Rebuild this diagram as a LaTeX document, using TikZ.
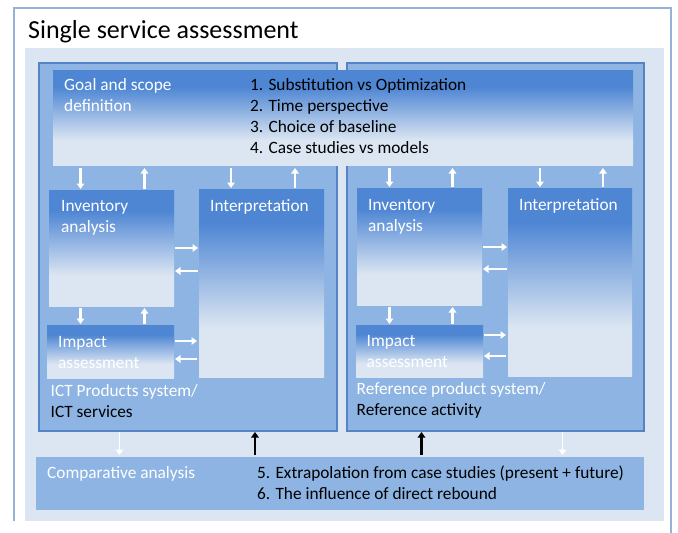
\documentclass[tikz,border=0pt]{standalone}
\usepackage{fontspec}
\setmainfont{Carlito}
\usetikzlibrary{arrows.meta}
\definecolor{framec}{RGB}{150,178,214}
\definecolor{panelc}{RGB}{220,230,242}
\definecolor{sysc}{RGB}{141,180,226}
\definecolor{sysedge}{RGB}{84,132,196}
\definecolor{gtop}{RGB}{78,134,212}
\definecolor{gbot}{RGB}{220,230,242}
\pgfdeclareverticalshading{lcagrad}{100bp}{color(0bp)=(gbot); color(25bp)=(gbot); color(38bp)=(gbot); color(66bp)=(gtop); color(75bp)=(gtop); color(100bp)=(gtop)}
\tikzset{
  box/.style={anchor=north west, inner sep=0pt, outer sep=0pt},
  sysbox/.style={box, fill=sysc, draw=sysedge, line width=1.1pt},
  gradbox/.style={box, shading=lcagrad},
  cmpbox/.style={box, fill=sysc},
  wtxt/.style={anchor=base west, inner sep=0pt, text=white, font=\fontsize{17.3}{21}\selectfont},
  btxt/.style={anchor=base west, inner sep=0pt, text=black, font=\fontsize{17.3}{21}\selectfont},
  warr/.style={draw=white, line width=2.2pt, -{Triangle[width=7.5pt,length=5.5pt]}},
  karr/.style={draw=black, line width=2.2pt, -{Triangle[width=7.5pt,length=5.5pt]}},
}
\begin{document}
\begin{tikzpicture}[x=1pt,y=-1pt]
\useasboundingbox (0,0) rectangle (678,533);
\fill[white] (0,0) rectangle (678,533);
% outer frame
\draw[framec, line width=1.2pt] (14,521) -- (14,8) -- (671,8) -- (671,540);
\node[anchor=base west, inner sep=0pt, font=\fontsize{26}{30}\selectfont] (title) at (28,38) {Single service assessment};
% panel
\node[box, fill=panelc, minimum width=639pt, minimum height=473pt] (panel) at (25,48) {};
% system boxes
\node[sysbox, minimum width=298pt, minimum height=368pt] (sysL) at (39,63) {};
\node[sysbox, minimum width=297pt, minimum height=368pt] (sysR) at (347,63) {};
% goal and scope
\node[gradbox, minimum width=580pt, minimum height=95pt] (goal) at (53,70) {};
\node[wtxt] (g1) at (64,90.5) {Goal and scope};
\node[wtxt] (g2) at (64,111.5) {definition};
\node[btxt] (l1) at (250,90.5) {1. Substitution vs Optimization};
\node[btxt] (l2) at (250,111.5) {2. Time perspective};
\node[btxt] (l3) at (250,132.5) {3. Choice of baseline};
\node[btxt] (l4) at (250,153.5) {4. Case studies vs models};
% left system
\node[gradbox, minimum width=125pt, minimum height=116pt] (invL) at (49,190) {};
\node[gradbox, minimum width=125pt, minimum height=188pt] (intL) at (199,189) {};
\node[gradbox, minimum width=127pt, minimum height=53pt] (impL) at (47,325) {};
\node[wtxt] at (61,211.5) {Inventory};
\node[wtxt] at (61,232.5) {analysis};
\node[wtxt] at (210,211) {Interpretation};
\node[wtxt] at (58,347.5) {Impact};
\node[wtxt] at (58,368.5) {assessment};
\node[wtxt] at (50.5,396.5) {ICT Products system/};
\node[btxt] at (50.5,417.5) {ICT services};
% right system
\node[gradbox, minimum width=125pt, minimum height=117pt] (invR) at (357,188) {};
\node[gradbox, minimum width=124pt, minimum height=188pt] (intR) at (508,188) {};
\node[gradbox, minimum width=127pt, minimum height=52pt] (impR) at (356,325) {};
\node[wtxt] at (368,210.5) {Inventory};
\node[wtxt] at (368,231.5) {analysis};
\node[wtxt] at (519,210) {Interpretation};
\node[wtxt] at (366.5,346.5) {Impact};
\node[wtxt] at (366.5,367.5) {assessment};
\node[wtxt] at (356.5,394.5) {Reference product system/};
\node[btxt] at (356.5,415.5) {Reference activity};
% comparative
\node[cmpbox, minimum width=608pt, minimum height=53pt] (cmp) at (36,457) {};
\node[wtxt] at (47,478) {Comparative analysis};
\node[btxt] at (257,478) {5. Extrapolation from case studies (present + future)};
\node[btxt] at (257,499) {6. The influence of direct rebound};
% arrows goal <-> boxes
\draw[warr, shorten <=3pt, shorten >=1pt] (80.5,0 |- goal.south) -- (80.5,0 |- invL.north);
\draw[warr, shorten <=1pt, shorten >=3pt] (144.5,0 |- invL.north) -- (144.5,0 |- goal.south);
\draw[warr, shorten <=3pt, shorten >=1pt] (231,0 |- goal.south) -- (231,0 |- intL.north);
\draw[warr, shorten <=1pt, shorten >=3pt] (295,0 |- intL.north) -- (295,0 |- goal.south);
\draw[warr, shorten <=3pt, shorten >=1pt] (389.5,0 |- goal.south) -- (389.5,0 |- invR.north);
\draw[warr, shorten <=1pt, shorten >=3pt] (452.5,0 |- invR.north) -- (452.5,0 |- goal.south);
\draw[warr, shorten <=3pt, shorten >=1pt] (540,0 |- goal.south) -- (540,0 |- intR.north);
\draw[warr, shorten <=1pt, shorten >=3pt] (603,0 |- intR.north) -- (603,0 |- goal.south);
% left internal
\draw[warr, shorten <=1pt, shorten >=1pt] (invL.east |- 0,248) -- (intL.west |- 0,248);
\draw[warr, shorten <=1pt, shorten >=1pt] (intL.west |- 0,271) -- (invL.east |- 0,271);
\draw[warr, shorten <=2pt, shorten >=1pt] (80.5,0 |- invL.south) -- (80.5,0 |- impL.north);
\draw[warr, shorten <=1pt, shorten >=2pt] (144.5,0 |- impL.north) -- (144.5,0 |- invL.south);
\draw[warr, shorten <=1pt, shorten >=2pt] (impL.east |- 0,341) -- (intL.west |- 0,341);
\draw[warr, shorten <=2pt, shorten >=1pt] (intL.west |- 0,359) -- (impL.east |- 0,359);
% right internal
\draw[warr, shorten <=1pt, shorten >=1pt] (invR.east |- 0,247) -- (intR.west |- 0,247);
\draw[warr, shorten <=1pt, shorten >=1pt] (intR.west |- 0,269) -- (invR.east |- 0,269);
\draw[warr, shorten <=2pt, shorten >=1pt] (389.5,0 |- invR.south) -- (389.5,0 |- impR.north);
\draw[warr, shorten <=1pt, shorten >=2pt] (452.5,0 |- impR.north) -- (452.5,0 |- invR.south);
\draw[warr, shorten <=1pt, shorten >=2pt] (impR.east |- 0,335) -- (intR.west |- 0,335);
\draw[warr, shorten <=2pt, shorten >=1pt] (intR.west |- 0,356) -- (impR.east |- 0,356);
% bottom arrows
\draw[warr, line width=1.6pt, shorten <=1pt, shorten >=2pt] (119.5,0 |- sysL.south) -- (119.5,0 |- cmp.north);
\draw[karr, shorten <=2pt, shorten >=1pt] (255,0 |- cmp.north) -- (255,0 |- sysL.south);
\draw[karr, shorten <=2pt, shorten >=1pt] (421.5,0 |- cmp.north) -- (421.5,0 |- sysR.south);
\draw[warr, line width=1.6pt, shorten <=1pt, shorten >=2pt] (562.5,0 |- sysR.south) -- (562.5,0 |- cmp.north);
\end{tikzpicture}
\end{document}
